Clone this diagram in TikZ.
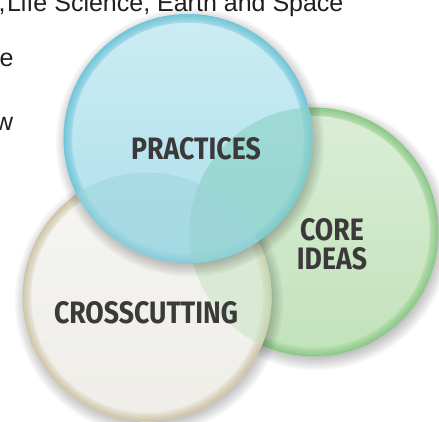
\documentclass[tikz,border=0pt]{standalone}
\usepackage{fontspec}
\usepackage{xcolor}
\usepackage{tikz}
\usetikzlibrary{calc,fadings}

\setmainfont{Liberation Sans}
\newfontfamily\vennfont[FakeStretch=0.86]{Fira Sans Bold}

\definecolor{greenMain}{HTML}{C2E3BB}
\definecolor{greenEdge}{HTML}{8CC787}
\definecolor{beigeMain}{HTML}{EFEEE9}
\definecolor{beigeEdge}{HTML}{CFC4A6}
\definecolor{blueMain}{HTML}{ACE0EC}
\definecolor{blueEdge}{HTML}{72C4D7}
\definecolor{tealTint}{HTML}{8AD1C2}
\definecolor{blueTint}{HTML}{9ED4DC}
\definecolor{labelGray}{HTML}{3B3939}
\definecolor{pageText}{HTML}{231F20}

\tikzfading[name=glossfade, top color=transparent!0, middle color=transparent!100, bottom color=transparent!100]

\begin{document}
\begin{tikzpicture}[x=1pt, y=-1pt,
    lab/.style={inner sep=0pt, text=labelGray, align=center, font=\vennfont\fontsize{31}{29}\selectfont},
    pagetext/.style={inner sep=0pt, text=pageText, font=\fontsize{25}{30}\selectfont},
    gloss/.style={white, path fading=glossfade, fill opacity=0.4}
]
\useasboundingbox[fill=white] (0,0) rectangle (439,422);

% Centres
\coordinate (gc) at (314,232);
\coordinate (bc) at (147,297);
\coordinate (pc) at (188,138.5);

% Page text cut by the frame
\node[pagetext, anchor=base west] (line1) at (-1.7,12) {,\hspace{-5.3pt} Life Science, Earth and Space};
\node[pagetext, anchor=base east] (line2) at (13.7,67) {e};
\node[pagetext, anchor=base east] (line3) at (13.5,130.5) {w};

% Discs: soft shadow, body with darker rim, gloss
\foreach \c/\main/\edge in {gc/greenMain/greenEdge, bc/beigeMain/beigeEdge, pc/blueMain/blueEdge} {
  \foreach \k in {0,...,6}
    \fill[black, fill opacity=0.035] ($(\c)+(2,4)$) circle ({(122+2*\k)*1pt});
  \fill[\main] (\c) circle (124.5pt);
  \foreach \k [evaluate=\k as \o using 1-\k*0.16] in {0,...,5}
    \draw[\edge, line width=1.5pt, opacity=\o] (\c) circle ({(123.75-1.5*\k)*1pt});
  \fill[gloss] (\c) circle (116pt);
  % overlaps seen through the disc just drawn
  \begin{scope}
    \clip (\c) circle (124.5pt);
    \ifnum\pdfstrcmp{\c}{bc}=0
      \fill[greenMain, opacity=0.5] (gc) circle (124.5pt);
    \fi
    \ifnum\pdfstrcmp{\c}{pc}=0
      \fill[tealTint, opacity=0.6] (gc) circle (124.5pt);
      \fill[blueTint, opacity=0.5] (bc) circle (124.5pt);
    \fi
  \end{scope}
}

% Labels
\node[lab, anchor=base] (practices) at (196,159.3) {PRACTICES};
\node[lab, anchor=north] (core) at (332,218.5) {CORE\\IDEAS};
\node[lab, anchor=base] (cross) at (146,323) {CROSSCUTTING};

\end{tikzpicture}
\end{document}
